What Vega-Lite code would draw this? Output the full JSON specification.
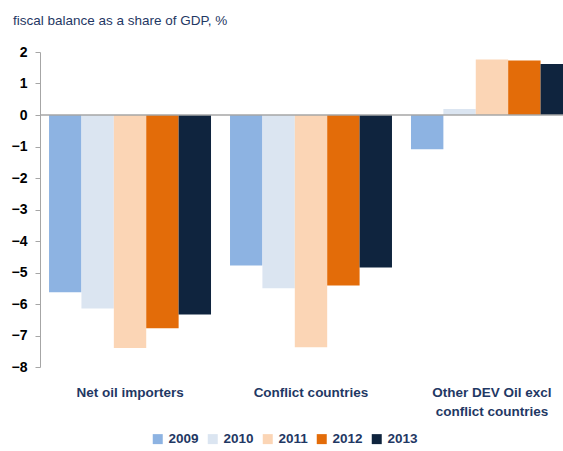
{
  "$schema": "https://vega.github.io/schema/vega-lite/v6.json",
  "autosize": "none",
  "width": 542,
  "height": 315,
  "padding": {"left": 40, "top": 52, "right": 0, "bottom": 84},
  "background": "white",
  "config": {"view": {"stroke": null}, "font": "Liberation Sans"},
  "title": {"text": "fiscal balance as a share of GDP, %", "anchor": "start", "frame": "group", "dx": -27, "offset": 18, "fontSize": 13.5, "fontWeight": "normal", "color": "#1F3864", "font": "Liberation Sans"},
  "encoding": {
    "y": {"field": "value", "type": "quantitative",
          "scale": {"domain": [-8, 2], "nice": false, "zero": false},
          "axis": {"title": null, "tickCount": 10, "tickMinStep": 1, "grid": false, "labelOverlap": false, "labelSeparation": 0, "labelFlush": false,
                   "domainColor": "#A6A6A6", "tickColor": "#A6A6A6", "tickSize": 5,
                   "labelFontSize": 14, "labelFontWeight": "bold", "labelColor": "#000000", "labelPadding": 8}}
  },
  "data": {"values": [
    {"group": "Net oil importers", "year": "2009", "value": -5.63},
    {"group": "Net oil importers", "year": "2010", "value": -6.14},
    {"group": "Net oil importers", "year": "2011", "value": -7.4},
    {"group": "Net oil importers", "year": "2012", "value": -6.77},
    {"group": "Net oil importers", "year": "2013", "value": -6.33},
    {"group": "Conflict countries", "year": "2009", "value": -4.78},
    {"group": "Conflict countries", "year": "2010", "value": -5.5},
    {"group": "Conflict countries", "year": "2011", "value": -7.37},
    {"group": "Conflict countries", "year": "2012", "value": -5.41},
    {"group": "Conflict countries", "year": "2013", "value": -4.84},
    {"group": "Other DEV Oil excl conflict countries", "year": "2009", "value": -1.09},
    {"group": "Other DEV Oil excl conflict countries", "year": "2010", "value": 0.19},
    {"group": "Other DEV Oil excl conflict countries", "year": "2011", "value": 1.76},
    {"group": "Other DEV Oil excl conflict countries", "year": "2012", "value": 1.73},
    {"group": "Other DEV Oil excl conflict countries", "year": "2013", "value": 1.62}
  ]},
  "layer": [
    {
      "mark": {"type": "bar"},
      "encoding": {
        "x": {"field": "group", "type": "nominal", "sort": null,
              "scale": {"paddingInner": 0.105, "paddingOuter": 0.05},
              "axis": {"title": null, "orient": "bottom", "domain": false, "ticks": false, "labelAngle": 0,
                       "labelFontSize": 13.5, "labelFontWeight": "bold", "labelColor": "#1F3864", "labelPadding": 18,
                       "labelExpr": "datum.value == 'Other DEV Oil excl conflict countries' ? ['Other DEV Oil excl', 'conflict countries'] : datum.value",
                       "labelLimit": 300, "labelLineHeight": 19}},
        "xOffset": {"field": "year", "type": "nominal", "scale": {"paddingInner": 0, "paddingOuter": 0}},
        "color": {"field": "year", "type": "nominal",
                  "scale": {"domain": ["2009","2010","2011","2012","2013"], "range": ["#8DB3E2","#DBE5F1","#FBD5B5","#E36C09","#0F243E"]},
                  "legend": {"title": null, "orient": "none", "direction": "horizontal", "legendX": 111, "legendY": 380,
                             "symbolType": "square", "symbolSize": 100, "symbolStrokeWidth": 0,
                             "labelFontSize": 13.5, "labelFontWeight": "bold", "labelColor": "#1F3864", "columnPadding": 7, "labelOffset": 4}}
      }
    },
    {
      "data": {"values": [{"value": 0}]},
      "mark": {"type": "rule", "color": "#A6A6A6", "strokeWidth": 1.5},
      "encoding": {}
    }
  ]
}
